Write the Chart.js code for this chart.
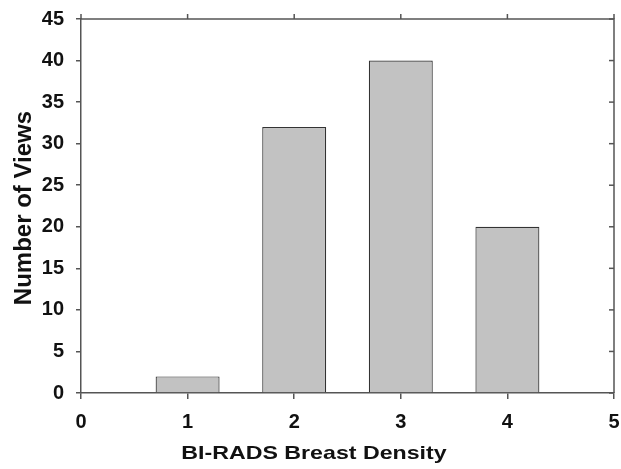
<!DOCTYPE html>
<html>
<head>
<meta charset="utf-8">
<script src="https://cdn.jsdelivr.net/npm/chart.js@4/dist/chart.umd.min.js"></script>
<style>
  html, body { margin: 0; padding: 0; background: #fff; }
  #wrap { width: 621px; height: 469px; }
</style>
</head>
<body>
<div id="wrap"><canvas id="densityChart" width="621" height="469"></canvas></div>
<script>
// BI-RADS density categories and view counts
const densityCategories = [1, 2, 3, 4];
const viewCounts = [2, 32, 40, 20];
const xTickValues = [0, 1, 2, 3, 4, 5];
const yTickValues = [0, 5, 10, 15, 20, 25, 30, 35, 40, 45];
const xTitle = "BI-RADS Breast Density";
const yTitle = "Number of Views";

const axisColor = "#555";
const labelFont = { family: "Liberation Sans, Arial, sans-serif", size: 20, weight: "bold" };

// frame on top/right with their tick marks, plus both axis titles
const framePlugin = {
    id: "frame",
    afterDraw(chart) {
        const ctx = chart.ctx;
        const a = chart.chartArea;
        const xs = chart.scales.x;
        const ys = chart.scales.y;
        ctx.save();
        ctx.strokeStyle = axisColor;
        ctx.lineWidth = 1.5;
        ctx.beginPath();
        ctx.moveTo(a.left, a.top);
        ctx.lineTo(a.right, a.top);
        ctx.lineTo(a.right, a.bottom);
        ctx.stroke();
        xTickValues.forEach(v => {
            const px = xs.getPixelForValue(v);
            ctx.beginPath();
            ctx.moveTo(px, a.top);
            ctx.lineTo(px, a.top - 5);
            ctx.stroke();
        });
        yTickValues.forEach(v => {
            const py = ys.getPixelForValue(v);
            ctx.beginPath();
            ctx.moveTo(a.right, py);
            ctx.lineTo(a.right - 5, py);
            ctx.stroke();
        });

        ctx.fillStyle = "#111";
        ctx.textAlign = "center";
        ctx.textBaseline = "alphabetic";

        // x title is a bit wider than the font, stretch it
        ctx.save();
        ctx.font = "bold 19px Liberation Sans, Arial, sans-serif";
        ctx.translate(314, 459);
        ctx.scale(1.22, 1);
        ctx.fillText(xTitle, 0, 0);
        ctx.restore();

        ctx.font = "bold 24px Liberation Sans, Arial, sans-serif";
        ctx.translate(31, 208);
        ctx.rotate(-Math.PI / 2);
        ctx.fillText(yTitle, 0, 0);
        ctx.restore();
    }
};

new Chart(document.getElementById("densityChart"), {
    type: "bar",
    data: {
        datasets: [{
            data: densityCategories.map((c, i) => ({ x: c, y: viewCounts[i] })),
            backgroundColor: "#c2c2c2",
            borderColor: "#333",
            borderWidth: 1.2,
            barPercentage: 0.6,
            categoryPercentage: 1.0
        }]
    },
    options: {
        responsive: false,
        animation: false,
        layout: { padding: { top: 19, right: 7, left: 0, bottom: 0 } },
        plugins: { legend: { display: false }, tooltip: { enabled: false } },
        scales: {
            x: {
                type: "linear",
                min: 0,
                max: 5,
                offset: false,
                afterBuildTicks: s => { s.ticks = xTickValues.map(v => ({ value: v })); },
                afterFit: s => { s.height = 76; s.paddingLeft = 0; s.paddingRight = 0; },
                grid: { offset: false, drawOnChartArea: false, tickLength: 6, color: axisColor, lineWidth: 1.5 },
                border: { display: true, color: axisColor, width: 1.5 },
                ticks: { color: "#111", font: labelFont, padding: 11, maxRotation: 0 }
            },
            y: {
                min: 0,
                max: 45,
                afterBuildTicks: s => { s.ticks = yTickValues.map(v => ({ value: v })); },
                afterFit: s => { s.width = 81; s.paddingTop = 0; s.paddingBottom = 0; },
                grid: { drawOnChartArea: false, tickLength: 5, color: axisColor, lineWidth: 1.5 },
                border: { display: true, color: axisColor, width: 1.5 },
                ticks: { color: "#111", font: labelFont, padding: 12 }
            }
        }
    },
    plugins: [framePlugin]
});
</script>
</body>
</html>
